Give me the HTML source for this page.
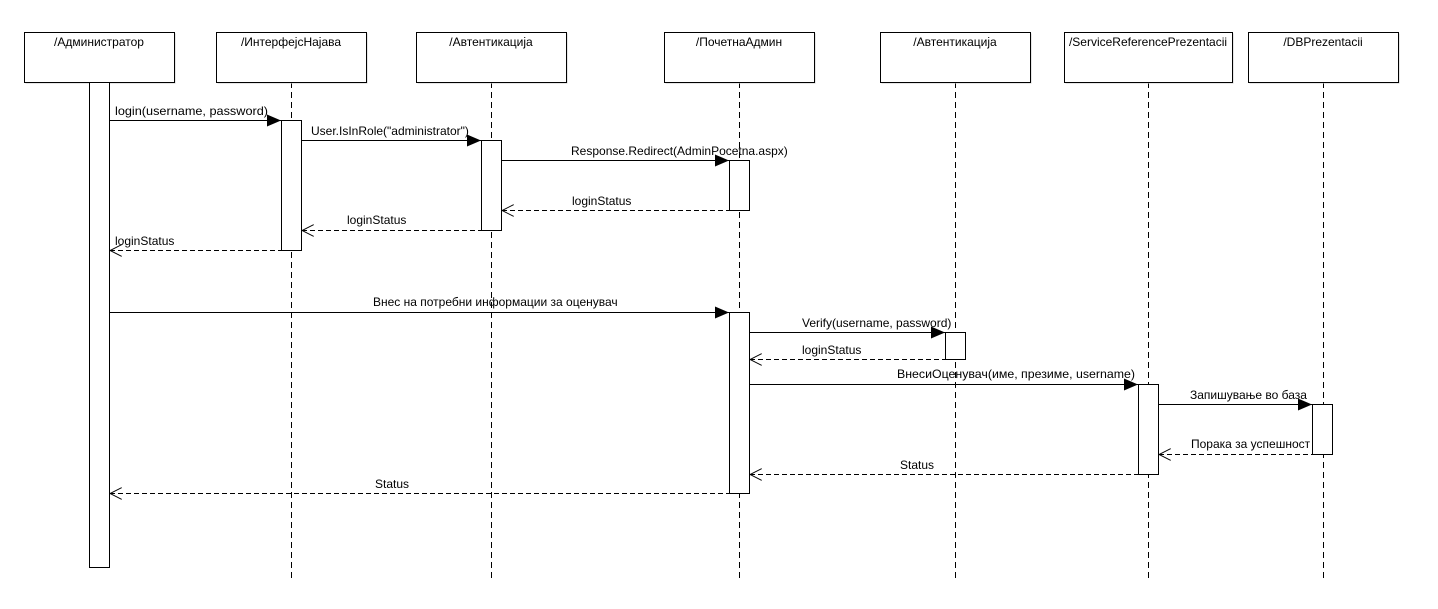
<!DOCTYPE html>
<html><head><meta charset="utf-8"><style>
html,body{margin:0;padding:0;background:#fff;}
svg{display:block;}
text{font-family:"Liberation Sans","DejaVu Sans",sans-serif;font-size:12px;fill:#000;}
</style></head><body>
<svg width="1438" height="609" viewBox="0 0 1438 609" xmlns="http://www.w3.org/2000/svg">
<defs>
<marker id="f" markerWidth="14" markerHeight="12" refX="14" refY="6" orient="auto" markerUnits="userSpaceOnUse"><path d="M0,0 L14,6 L0,12 Z" fill="#000"/></marker>
<marker id="o" markerWidth="12" markerHeight="12" refX="0" refY="6" orient="auto" markerUnits="userSpaceOnUse"><path d="M12,0 L0,6 L12,12" fill="none" stroke="#000"/></marker>
</defs>
<g stroke="#000" stroke-width="1" stroke-dasharray="6,4" fill="none">
<line x1="291.5" y1="82" x2="291.5" y2="578"/>
<line x1="491.5" y1="82" x2="491.5" y2="578"/>
<line x1="739.5" y1="82" x2="739.5" y2="578"/>
<line x1="955.5" y1="82" x2="955.5" y2="578"/>
<line x1="1148.5" y1="82" x2="1148.5" y2="578"/>
<line x1="1323.5" y1="82" x2="1323.5" y2="578"/>
</g>
<g fill="#fff" stroke="#000">
<rect x="25.5" y="33.5" width="150" height="50" fill="#ccc" stroke="none"/>
<rect x="24.5" y="32.5" width="150" height="50"/>
<rect x="217.5" y="33.5" width="150" height="50" fill="#ccc" stroke="none"/>
<rect x="216.5" y="32.5" width="150" height="50"/>
<rect x="417.5" y="33.5" width="150" height="50" fill="#ccc" stroke="none"/>
<rect x="416.5" y="32.5" width="150" height="50"/>
<rect x="665.5" y="33.5" width="150" height="50" fill="#ccc" stroke="none"/>
<rect x="664.5" y="32.5" width="150" height="50"/>
<rect x="881.5" y="33.5" width="150" height="50" fill="#ccc" stroke="none"/>
<rect x="880.5" y="32.5" width="150" height="50"/>
<rect x="1065.5" y="33.5" width="168" height="50" fill="#ccc" stroke="none"/>
<rect x="1064.5" y="32.5" width="168" height="50"/>
<rect x="1249.5" y="33.5" width="150" height="50" fill="#ccc" stroke="none"/>
<rect x="1248.5" y="32.5" width="150" height="50"/>
<rect x="89.5" y="82.5" width="20" height="485"/>
<rect x="281.5" y="120.5" width="20" height="130"/>
<rect x="481.5" y="140.5" width="20" height="90"/>
<rect x="729.5" y="160.5" width="20" height="50"/>
<rect x="729.5" y="312.5" width="20" height="181"/>
<rect x="945.5" y="332.5" width="20" height="27"/>
<rect x="1138.5" y="384.5" width="20" height="90"/>
<rect x="1312.5" y="404.5" width="20" height="50"/>
</g>
<g text-anchor="middle">
<text x="99" y="46">/Администратор</text>
<text x="291" y="46">/ИнтерфејсНајава</text>
<text x="491" y="46">/Автентикација</text>
<text x="739" y="46">/ПочетнаАдмин</text>
<text x="955" y="46">/Автентикација</text>
<text x="1148" y="46">/ServiceReferencePrezentacii</text>
<text x="1323" y="46">/DBPrezentacii</text>
</g>
<g stroke="#000" fill="none">
<line x1="110" y1="120.5" x2="281" y2="120.5" marker-end="url(#f)"/>
<line x1="302" y1="140.5" x2="481" y2="140.5" marker-end="url(#f)"/>
<line x1="502" y1="160.5" x2="729" y2="160.5" marker-end="url(#f)"/>
<line x1="110" y1="312.5" x2="729" y2="312.5" marker-end="url(#f)"/>
<line x1="750" y1="332.5" x2="945" y2="332.5" marker-end="url(#f)"/>
<line x1="750" y1="384.5" x2="1138" y2="384.5" marker-end="url(#f)"/>
<line x1="1159" y1="404.5" x2="1312" y2="404.5" marker-end="url(#f)"/>
<g stroke-dasharray="5,3">
<line x1="502" y1="210.5" x2="729" y2="210.5" marker-start="url(#o)"/>
<line x1="302" y1="230.5" x2="481" y2="230.5" marker-start="url(#o)"/>
<line x1="110" y1="250.5" x2="281" y2="250.5" marker-start="url(#o)"/>
<line x1="750" y1="359.5" x2="945" y2="359.5" marker-start="url(#o)"/>
<line x1="1159" y1="454.5" x2="1312" y2="454.5" marker-start="url(#o)"/>
<line x1="750" y1="474.5" x2="1138" y2="474.5" marker-start="url(#o)"/>
<line x1="110" y1="493.5" x2="729" y2="493.5" marker-start="url(#o)"/>
</g>
</g>
<text x="115" y="115" textLength="153" lengthAdjust="spacingAndGlyphs">login(username, password)</text>
<text x="311" y="135">User.IsInRole("administrator")</text>
<text x="571" y="155">Response.Redirect(AdminPocetna.aspx)</text>
<text x="572" y="205">loginStatus</text>
<text x="347" y="224">loginStatus</text>
<text x="115" y="245">loginStatus</text>
<text x="373" y="306">Внес на потребни информации за оценувач</text>
<text x="802" y="327">Verify(username, password)</text>
<text x="802" y="354">loginStatus</text>
<text x="897" y="378" textLength="238" lengthAdjust="spacingAndGlyphs">ВнесиОценувач(име, презиме, username)</text>
<text x="1190" y="399">Запишување во база</text>
<text x="1191" y="448">Порака за успешност</text>
<text x="900" y="469">Status</text>
<text x="375" y="488">Status</text>
</svg>
</body></html>
